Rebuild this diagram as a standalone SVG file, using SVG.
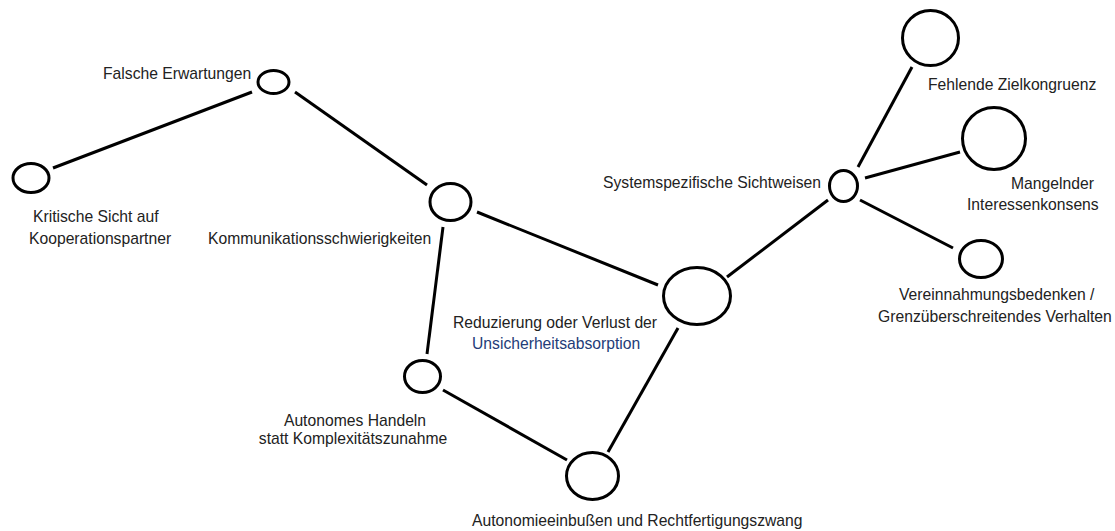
<svg xmlns="http://www.w3.org/2000/svg" width="1115" height="531" viewBox="0 0 1115 531">
  <style>
    .node { fill: #ffffff; stroke: #000000; stroke-width: 3; }
    .edge { stroke: #000000; stroke-width: 3; fill: none; stroke-linecap: butt; }
    .label { font-family: "Liberation Sans", Arial, sans-serif; font-size: 15.7px; fill: #222222; }
    .mid { text-anchor: middle; }
    .blue { fill: #233c78; }
  </style>
  <rect width="1115" height="531" fill="#ffffff"/>

  <!-- connectors -->
  <g id="edges">
    <line class="edge" x1="53" y1="168" x2="252" y2="92"/>
    <line class="edge" x1="295" y1="92" x2="427" y2="185"/>
    <line class="edge" x1="443" y1="227" x2="427" y2="354"/>
    <line class="edge" x1="477" y1="212" x2="658" y2="285"/>
    <line class="edge" x1="727" y1="277" x2="828" y2="200"/>
    <line class="edge" x1="678" y1="328" x2="608" y2="452"/>
    <line class="edge" x1="443" y1="390" x2="567" y2="460"/>
    <line class="edge" x1="858" y1="167" x2="912" y2="67"/>
    <line class="edge" x1="865" y1="178" x2="960" y2="152"/>
    <line class="edge" x1="860" y1="200" x2="953" y2="248"/>
  </g>

  <g id="falsche-erwartungen">
    <ellipse class="node" cx="273.5" cy="82" rx="15.5" ry="11.5"/>
    <text class="label" x="103" y="79">Falsche Erwartungen</text>
  </g>

  <g id="kritische-sicht">
    <ellipse class="node" cx="31" cy="178" rx="18" ry="14.5"/>
    <text class="label" x="33" y="222">Kritische Sicht auf</text>
    <text class="label" x="29" y="244">Kooperationspartner</text>
  </g>

  <g id="kommunikation">
    <ellipse class="node" cx="450.5" cy="202" rx="20.5" ry="18.5"/>
    <text class="label" x="208" y="244">Kommunikationsschwierigkeiten</text>
  </g>

  <g id="reduzierung">
    <ellipse class="node" cx="697" cy="296" rx="33.5" ry="28.5"/>
    <text class="label" x="453" y="328">Reduzierung oder Verlust der</text>
    <text class="label blue" x="472" y="349">Unsicherheitsabsorption</text>
  </g>

  <g id="systemspezifisch">
    <ellipse class="node" cx="843.5" cy="186" rx="14" ry="15.5"/>
    <text class="label" x="603" y="188">Systemspezifische Sichtweisen</text>
  </g>

  <g id="zielkongruenz">
    <ellipse class="node" cx="930.5" cy="38" rx="28" ry="27.5"/>
    <text class="label" x="928" y="90">Fehlende Zielkongruenz</text>
  </g>

  <g id="interessenkonsens">
    <ellipse class="node" cx="994" cy="138.5" rx="31.5" ry="31"/>
    <text class="label" x="1011" y="189">Mangelnder</text>
    <text class="label" x="967" y="210">Interessenkonsens</text>
  </g>

  <g id="vereinnahmung">
    <ellipse class="node" cx="981" cy="259" rx="21.5" ry="18.5"/>
    <text class="label" x="899" y="300">Vereinnahmungsbedenken /</text>
    <text class="label" x="878" y="322">Grenzüberschreitendes Verhalten</text>
  </g>

  <g id="autonomes-handeln">
    <ellipse class="node" cx="422.5" cy="376.5" rx="18" ry="16"/>
    <text class="label mid" x="355" y="426">Autonomes Handeln</text>
    <text class="label mid" x="353" y="444">statt Komplexitätszunahme</text>
  </g>

  <g id="autonomieeinbussen">
    <ellipse class="node" cx="592.5" cy="476" rx="26" ry="23.5"/>
    <text class="label" x="472" y="526">Autonomieeinbußen und Rechtfertigungszwang</text>
  </g>
</svg>
